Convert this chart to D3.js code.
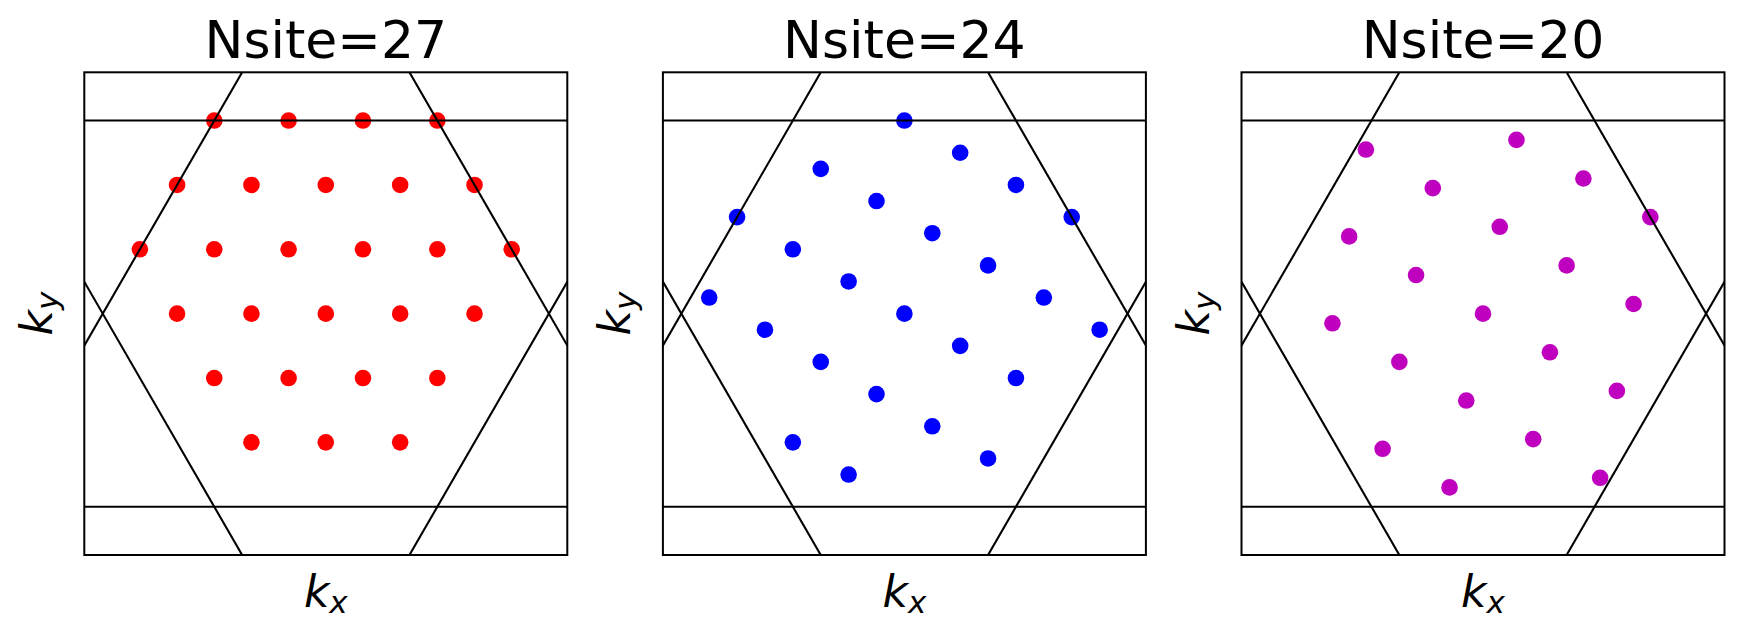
<!DOCTYPE html>
<html><head><meta charset="utf-8">
<script src="https://cdn.jsdelivr.net/npm/d3@7"></script>
<style>body{margin:0;background:#fff}svg{display:block}</style>
</head><body>
<script>
// ---- data (momenta in units of 1/a, triangular lattice) ----
const titles = ["Nsite=27", "Nsite=24", "Nsite=20"];
const dotColors = ["#ff0000", "#0000ff", "#bf00bf"];

const kx27 = [-2.0944, -0.6981, 0.6981, 2.0944,
              -2.7925, -1.3963, 0, 1.3963, 2.7925,
              -3.4907, -2.0944, -0.6981, 0.6981, 2.0944, 3.4907,
              -2.7925, -1.3963, 0, 1.3963, 2.7925,
              -2.0944, -0.6981, 0.6981, 2.0944,
              -1.3963, 0, 1.3963];
const ky27 = [3.6276, 3.6276, 3.6276, 3.6276,
              2.4184, 2.4184, 2.4184, 2.4184, 2.4184,
              1.2092, 1.2092, 1.2092, 1.2092, 1.2092, 1.2092,
              0, 0, 0, 0, 0,
              -1.2092, -1.2092, -1.2092, -1.2092,
              -2.4184, -2.4184, -2.4184];

const kx24 = [0, 0, -3.1416, 3.1416,
              1.0472, -1.5708, 2.0944, -0.5236, 0.5236, -2.0944, 1.5708, -1.0472, -3.6652, 2.6180,
              -1.0472, 1.5708, -2.0944, 0.5236, -0.5236, 2.0944, -1.5708, 1.0472, 3.6652, -2.6180];
const ky24 = [0, 3.6276, 1.8138, 1.8138,
              3.0230, 2.7207, 2.4184, 2.1161, 1.5115, 1.2092, 0.9069, 0.6046, 0.3023, 0.3023,
              -3.0230, -2.7207, -2.4184, -2.1161, -1.5115, -1.2092, -0.9069, -0.6046, -0.3023, -0.3023];

const kx20 = [0, 3.1416,
              1.5708, -1.2566, 2.8274, -2.1991, 0.6283, -0.9425, 1.8850, -2.5133, 0.3142,
              -1.5708, 1.2566, -2.8274, 2.1991, -0.6283, 0.9425, -1.8850, 2.5133, -0.3142];
const ky20 = [0, 1.8138,
              0.9069, 0.7255, 0.1814, 3.0835, 3.2648, 2.3579, 2.5393, 1.4510, 1.6324,
              -0.9069, -0.7255, -0.1814, -3.0835, -3.2648, -2.3579, -2.5393, -1.4510, -1.6324];

// Brillouin-zone hexagon corners (edges are drawn as extended lines)
const bzKx = [4.1888, 2.0944, -2.0944, -4.1888, -2.0944, 2.0944];
const bzKy = [0, 3.6276, 3.6276, 0, -3.6276, -3.6276];
const kLimit = 4.5345;

const panelsKx = [kx27, kx24, kx20];
const panelsKy = [ky27, ky24, ky20];

// ---- layout ----
const W = 1742, H = 634;
const axLefts = [84.3, 662.9, 1241.5];
const axTop = 72.3, axW = 483, axH = 482.7;
const fontFam = "'DejaVu Sans', sans-serif";

const svg = d3.select("body").append("svg").attr("width", W).attr("height", H);

axLefts.forEach((left, p) => {
  const x = d3.scaleLinear().domain([-kLimit, kLimit]).range([left, left + axW]);
  const y = d3.scaleLinear().domain([-kLimit, kLimit]).range([axTop + axH, axTop]);
  const g = svg.append("g");
  const clipId = "clip" + p;
  g.append("clipPath").attr("id", clipId).append("rect")
    .attr("x", left).attr("y", axTop).attr("width", axW).attr("height", axH);

  const pts = panelsKx[p].map((v, i) => ({kx: v, ky: panelsKy[p][i]}));
  g.append("g").attr("clip-path", `url(#${clipId})`).selectAll("circle").data(pts).join("circle")
    .attr("cx", d => x(d.kx)).attr("cy", d => y(d.ky)).attr("r", 8.3)
    .attr("fill", dotColors[p]);

  // extended zone-boundary lines
  const edges = bzKx.map((v, i) => {
    const j = (i + 1) % bzKx.length;
    const dx = bzKx[j] - v, dy = bzKy[j] - bzKy[i];
    return [[v - 10 * dx, bzKy[i] - 10 * dy], [v + 11 * dx, bzKy[i] + 11 * dy]];
  });
  g.append("g").attr("clip-path", `url(#${clipId})`).selectAll("line").data(edges).join("line")
    .attr("x1", d => x(d[0][0])).attr("y1", d => y(d[0][1]))
    .attr("x2", d => x(d[1][0])).attr("y2", d => y(d[1][1]))
    .attr("stroke", "#000").attr("stroke-width", 2.1);

  g.append("rect").attr("x", left).attr("y", axTop).attr("width", axW).attr("height", axH)
    .attr("fill", "none").attr("stroke", "#000").attr("stroke-width", 2);

  g.append("text").attr("x", left + axW / 2).attr("y", 58.3)
    .attr("text-anchor", "middle").attr("font-family", fontFam).attr("font-size", 52)
    .text(titles[p]);

  const xl = g.append("text").attr("x", left + axW / 2).attr("y", 606.5)
    .attr("text-anchor", "middle").attr("font-family", fontFam).attr("font-size", 44)
    .attr("font-style", "oblique");
  xl.append("tspan").text("k");
  xl.append("tspan").attr("font-size", 31).attr("dy", 6).text("x");

  const cy = axTop + axH / 2, bx = left - 32.6;
  const yl = g.append("text").attr("transform", `translate(${bx},${cy}) rotate(-90)`)
    .attr("text-anchor", "middle").attr("font-family", fontFam).attr("font-size", 44)
    .attr("font-style", "oblique");
  yl.append("tspan").text("k");
  yl.append("tspan").attr("font-size", 31).attr("dy", 6).text("y");
});
</script>
</body></html>
